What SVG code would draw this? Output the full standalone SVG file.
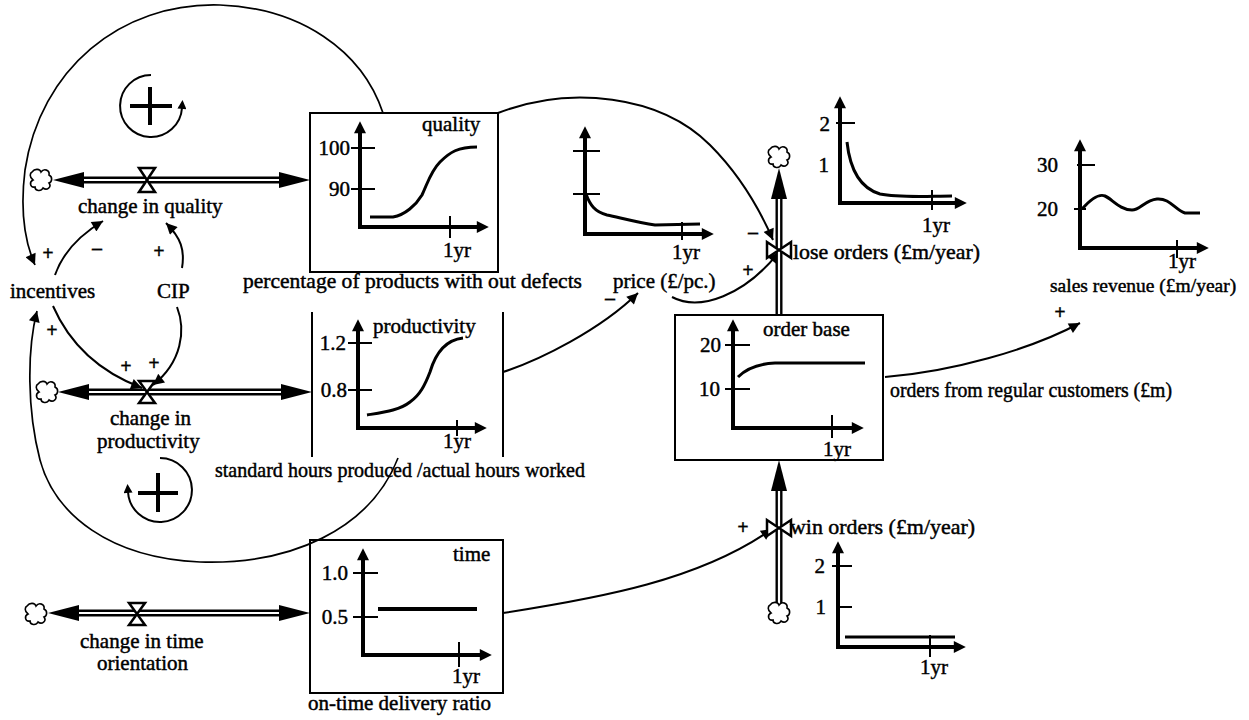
<svg xmlns="http://www.w3.org/2000/svg" width="1249" height="720" viewBox="0 0 1249 720">
<defs>
<style>
text{font-family:"Liberation Serif","Times New Roman",serif;font-size:21px;fill:#000;stroke:#000;stroke-width:0.45}
.sgn{font-size:20px;text-anchor:middle;font-weight:bold;stroke-width:0.3}
.end{text-anchor:end}
.lnk{fill:none;stroke:#000;stroke-width:2;marker-end:url(#ah)}
.arc{fill:none;stroke:#000;stroke-width:1.7;marker-end:url(#ah)}
.pipeo{stroke:#000;stroke-width:7;fill:none}
.pipei{stroke:#fff;stroke-width:2.2;fill:none}
.box{fill:none;stroke:#000;stroke-width:2}
.ax{stroke:#000;stroke-width:4;fill:none;marker-end:url(#axh)}
.tk{stroke:#000;stroke-width:2}
.cv{fill:none;stroke:#000;stroke-width:3}
.valve{fill:#fff;stroke:#000;stroke-width:2.5}
.cloud{fill:#fff;stroke:#000;stroke-width:1.6}
.loop{fill:none;stroke:#000;stroke-width:2;marker-end:url(#lh)}
.plus{stroke:#000;stroke-width:4}
</style>
<marker id="ah" viewBox="0 0 10 10" refX="10" refY="5" markerWidth="18" markerHeight="11" markerUnits="userSpaceOnUse" orient="auto"><path d="M0,0 L10,5 L0,10 z"/></marker>
<marker id="axh" viewBox="0 0 10 10" refX="1" refY="5" markerWidth="13" markerHeight="12" markerUnits="userSpaceOnUse" orient="auto"><path d="M0,0 L10,5 L0,10 z"/></marker>
<marker id="lh" viewBox="0 0 10 10" refX="1" refY="5" markerWidth="14" markerHeight="9" markerUnits="userSpaceOnUse" orient="auto"><path d="M0,0 L10,5 L0,10 z"/></marker>
<path id="cl" d="M-9,-8 C-6,-12 -1,-11 0,-8 C3,-12 9,-10 8,-5 C12,-3 11,2 8,3 C11,7 6,11 2,8 C0,12 -6,11 -6,7 C-11,8 -12,2 -8,0 C-12,-3 -11,-7 -9,-8 Z"/>
</defs>
<rect width="1249" height="720" fill="#fff"/>

<g id="connectors">
  <path class="arc" d="M383,113 C362,50 300,8 220,5 C120,2 40,70 25,170 C20,210 24,240 35,265"/>
  <path class="arc" d="M398,458 C370,530 290,565 200,562 C110,558 55,515 40,460 C27,410 27,350 37,311"/>
  <path class="lnk" d="M55,275 C62,255 78,236 103,221"/>
  <path class="lnk" d="M182,268 C185,250 181,238 166,223"/>
  <path class="lnk" d="M53,306 C70,345 100,372 142,388"/>
  <path class="lnk" d="M177,307 C186,330 182,362 153,385"/>
  <path class="lnk" d="M503,372 C540,360 600,330 638,293"/>
  <path class="lnk" d="M498,113 C570,85 660,95 710,145 C740,175 760,210 773,240"/>
  <path class="lnk" d="M672,297 C700,312 745,295 779,252"/>
  <path class="lnk" d="M885,377 C950,372 1030,350 1080,323"/>
  <path class="lnk" d="M503,613 C600,598 700,580 772,529"/>
  <g id="pipe-quality">
    <line class="pipeo" x1="80" y1="180" x2="283" y2="180"/>
    <line class="pipei" x1="80" y1="180" x2="283" y2="180"/>
    <polygon points="53,180 84,172 84,188"/>
    <polygon points="310,180 279,172 279,188"/>
  </g>
  <g id="pipe-productivity">
    <line class="pipeo" x1="85" y1="392" x2="285" y2="392"/>
    <line class="pipei" x1="85" y1="392" x2="285" y2="392"/>
    <polygon points="58,392 89,384 89,400"/>
    <polygon points="312,392 281,384 281,400"/>
  </g>
  <g id="pipe-time">
    <line class="pipeo" x1="75" y1="613" x2="283" y2="613"/>
    <line class="pipei" x1="75" y1="613" x2="283" y2="613"/>
    <polygon points="48,613 79,605 79,621"/>
    <polygon points="310,613 279,605 279,621"/>
  </g>
  <g id="pipe-lose">
    <line class="pipeo" x1="779" y1="195" x2="779" y2="315"/>
    <line class="pipei" x1="779" y1="195" x2="779" y2="315"/>
    <polygon points="779,168 771,199 787,199"/>
  </g>
  <g id="pipe-win">
    <line class="pipeo" x1="779" y1="487" x2="779" y2="603"/>
    <line class="pipei" x1="779" y1="487" x2="779" y2="603"/>
    <polygon points="779,460 771,491 787,491"/>
  </g>
  <text class="sgn" x="48" y="260">+</text>
  <text class="sgn" x="97" y="255">–</text>
  <text class="sgn" x="159" y="258">+</text>
  <text class="sgn" x="52" y="337">+</text>
  <text class="sgn" x="126" y="373">+</text>
  <text class="sgn" x="154" y="370">+</text>
  <text class="sgn" x="610" y="305">–</text>
  <text class="sgn" x="753" y="239">–</text>
  <text class="sgn" x="748" y="277">+</text>
  <text class="sgn" x="743" y="534">+</text>
  <text class="sgn" x="1060" y="319">+</text>
</g>

<g id="loop-upper">
  <path class="loop" d="M151,75 A31,31 0 1,0 182,108"/>
  <line class="plus" x1="130" y1="106" x2="172" y2="106"/>
  <line class="plus" x1="150" y1="87" x2="150" y2="125"/>
</g>
<g id="loop-lower">
  <path class="loop" d="M160,458 A32,32 0 1,1 128,492"/>
  <line class="plus" x1="138" y1="493" x2="178" y2="493"/>
  <line class="plus" x1="158" y1="473" x2="158" y2="512"/>
</g>

<g id="clouds">
  <use href="#cl" class="cloud" x="41" y="180"/>
  <use href="#cl" class="cloud" x="47" y="392"/>
  <use href="#cl" class="cloud" x="36" y="614"/>
  <use href="#cl" class="cloud" x="779" y="157"/>
  <use href="#cl" class="cloud" x="779" y="613"/>
</g>

<g id="change-in-quality">
  <path class="valve" d="M139,168 L155,168 L139,192 L155,192 Z"/>
  <text x="78" y="213">change in quality</text>
</g>
<g id="change-in-productivity">
  <path class="valve" d="M139,381 L155,381 L139,403 L155,403 Z"/>
  <text x="110" y="425">change in</text>
  <text x="97" y="448">productivity</text>
</g>
<g id="change-in-time">
  <path class="valve" d="M129,603 L145,603 L129,625 L145,625 Z"/>
  <text x="80" y="648">change in time</text>
  <text x="97" y="670">orientation</text>
</g>
<g id="incentives"><text x="10" y="298">incentives</text></g>
<g id="cip"><text x="157" y="298">CIP</text></g>

<g id="quality-stock">
  <rect class="box" x="310" y="113" width="188" height="159"/>
  <line class="ax" x1="360" y1="227" x2="360" y2="132"/>
  <line class="ax" x1="358" y1="227" x2="478" y2="227"/>
  <line class="tk" x1="351" y1="148" x2="375" y2="148"/>
  <line class="tk" x1="351" y1="189" x2="375" y2="189"/>
  <line class="tk" x1="450" y1="216" x2="450" y2="238"/>
  <path class="cv" d="M370,217 L393,217 C405,215 416,205 422,195 C428,182 431,171 440,162 C450,152 458,147 477,147"/>
  <text class="end" x="350" y="155">100</text>
  <text class="end" x="350" y="196">90</text>
  <text x="422" y="131">quality</text>
  <text x="443" y="257">1yr</text>
  <text x="243" y="288" textLength="339" lengthAdjust="spacingAndGlyphs">percentage of products with out defects</text>
</g>

<g id="productivity-stock">
  <line class="tk" x1="312" y1="312" x2="312" y2="457"/>
  <line class="tk" x1="503" y1="312" x2="503" y2="457"/>
  <line class="ax" x1="358" y1="428" x2="358" y2="330"/>
  <line class="ax" x1="356" y1="428" x2="476" y2="428"/>
  <line class="tk" x1="348" y1="343" x2="372" y2="343"/>
  <line class="tk" x1="348" y1="390" x2="372" y2="390"/>
  <line class="tk" x1="457" y1="420" x2="457" y2="436"/>
  <path class="cv" d="M367,415 C385,412 400,410 410,402 C420,395 425,385 430,372 C435,355 445,340 463,338"/>
  <text class="end" x="346" y="350">1.2</text>
  <text class="end" x="347" y="397">0.8</text>
  <text x="373" y="333">productivity</text>
  <text x="443" y="448">1yr</text>
  <text x="215" y="477" textLength="370" lengthAdjust="spacingAndGlyphs">standard hours produced /actual hours worked</text>
</g>

<g id="time-stock">
  <rect class="box" x="310" y="540" width="193" height="153"/>
  <line class="ax" x1="363" y1="655" x2="363" y2="559"/>
  <line class="ax" x1="361" y1="655" x2="481" y2="655"/>
  <line class="tk" x1="353" y1="573" x2="378" y2="573"/>
  <line class="tk" x1="353" y1="617" x2="378" y2="617"/>
  <line class="tk" x1="459" y1="642" x2="459" y2="667"/>
  <line x1="378" y1="609" x2="477" y2="609" stroke="#000" stroke-width="4"/>
  <text class="end" x="348" y="580">1.0</text>
  <text class="end" x="348" y="624">0.5</text>
  <text x="453" y="561">time</text>
  <text x="452" y="683">1yr</text>
  <text x="308" y="710">on-time delivery ratio</text>
</g>

<g id="price">
  <line class="ax" x1="585" y1="234" x2="585" y2="137"/>
  <line class="ax" x1="583" y1="234" x2="703" y2="234"/>
  <line class="tk" x1="573" y1="151" x2="600" y2="151"/>
  <line class="tk" x1="573" y1="194" x2="600" y2="194"/>
  <line class="tk" x1="682" y1="222" x2="682" y2="240"/>
  <path class="cv" d="M586,194 C590,205 595,212 607,215 C625,219 640,223 655,225 L700,224"/>
  <text x="672" y="259">1yr</text>
  <text x="613" y="288">price (£/pc.)</text>
</g>

<g id="lose-orders">
  <path class="valve" d="M767,242 L767,258 L791,242 L791,258 Z"/>
  <line class="ax" x1="840" y1="203" x2="840" y2="107"/>
  <line class="ax" x1="838" y1="203" x2="956" y2="203"/>
  <line class="tk" x1="836" y1="123" x2="855" y2="123"/>
  <line class="tk" x1="932" y1="190" x2="932" y2="210"/>
  <path class="cv" d="M847,142 C850,170 860,188 880,194 C900,198 930,196 952,196"/>
  <text class="end" x="830" y="131">2</text>
  <text class="end" x="829" y="172">1</text>
  <text x="922" y="232">1yr</text>
  <text x="793" y="259" textLength="187" lengthAdjust="spacingAndGlyphs">lose orders (£m/year)</text>
</g>

<g id="order-base">
  <rect class="box" x="675" y="315" width="208" height="145"/>
  <line class="ax" x1="733" y1="428" x2="733" y2="330"/>
  <line class="ax" x1="731" y1="428" x2="853" y2="428"/>
  <line class="tk" x1="725" y1="345" x2="750" y2="345"/>
  <line class="tk" x1="725" y1="389" x2="750" y2="389"/>
  <line class="tk" x1="832" y1="415" x2="832" y2="438"/>
  <path class="cv" d="M738,377 C745,370 755,364 775,363 L865,363"/>
  <text class="end" x="721" y="352">20</text>
  <text class="end" x="720" y="396">10</text>
  <text x="763" y="336">order base</text>
  <text x="823" y="456">1yr</text>
  <text x="890" y="397" textLength="282" lengthAdjust="spacingAndGlyphs">orders from regular customers (£m)</text>
</g>

<g id="sales-revenue">
  <line class="ax" x1="1080" y1="248" x2="1080" y2="150"/>
  <line class="ax" x1="1078" y1="248" x2="1198" y2="248"/>
  <line class="tk" x1="1077" y1="165" x2="1095" y2="165"/>
  <line class="tk" x1="1074" y1="209" x2="1086" y2="209"/>
  <line class="tk" x1="1177" y1="240" x2="1177" y2="258"/>
  <path class="cv" d="M1082,209 C1090,200 1098,193 1105,196 C1112,199 1120,210 1132,210 C1140,210 1145,200 1157,199 C1170,198 1175,210 1185,213 L1200,213"/>
  <text class="end" x="1058" y="172">30</text>
  <text class="end" x="1058" y="216">20</text>
  <text x="1168" y="268">1yr</text>
  <text x="1050" y="292" style="font-size:19.5px">sales revenue (£m/year)</text>
</g>

<g id="win-orders">
  <path class="valve" d="M767,520 L767,536 L791,520 L791,536 Z"/>
  <line class="ax" x1="838" y1="647" x2="838" y2="552"/>
  <line class="ax" x1="836" y1="647" x2="955" y2="647"/>
  <line class="tk" x1="832" y1="566" x2="852" y2="566"/>
  <line class="tk" x1="838" y1="607" x2="852" y2="607"/>
  <line class="tk" x1="930" y1="635" x2="930" y2="657"/>
  <line x1="845" y1="637" x2="955" y2="637" stroke="#000" stroke-width="3"/>
  <text class="end" x="825" y="573">2</text>
  <text class="end" x="826" y="614">1</text>
  <text x="920" y="674">1yr</text>
  <text x="790" y="534" textLength="185" lengthAdjust="spacingAndGlyphs">win orders (£m/year)</text>
</g>
</svg>
